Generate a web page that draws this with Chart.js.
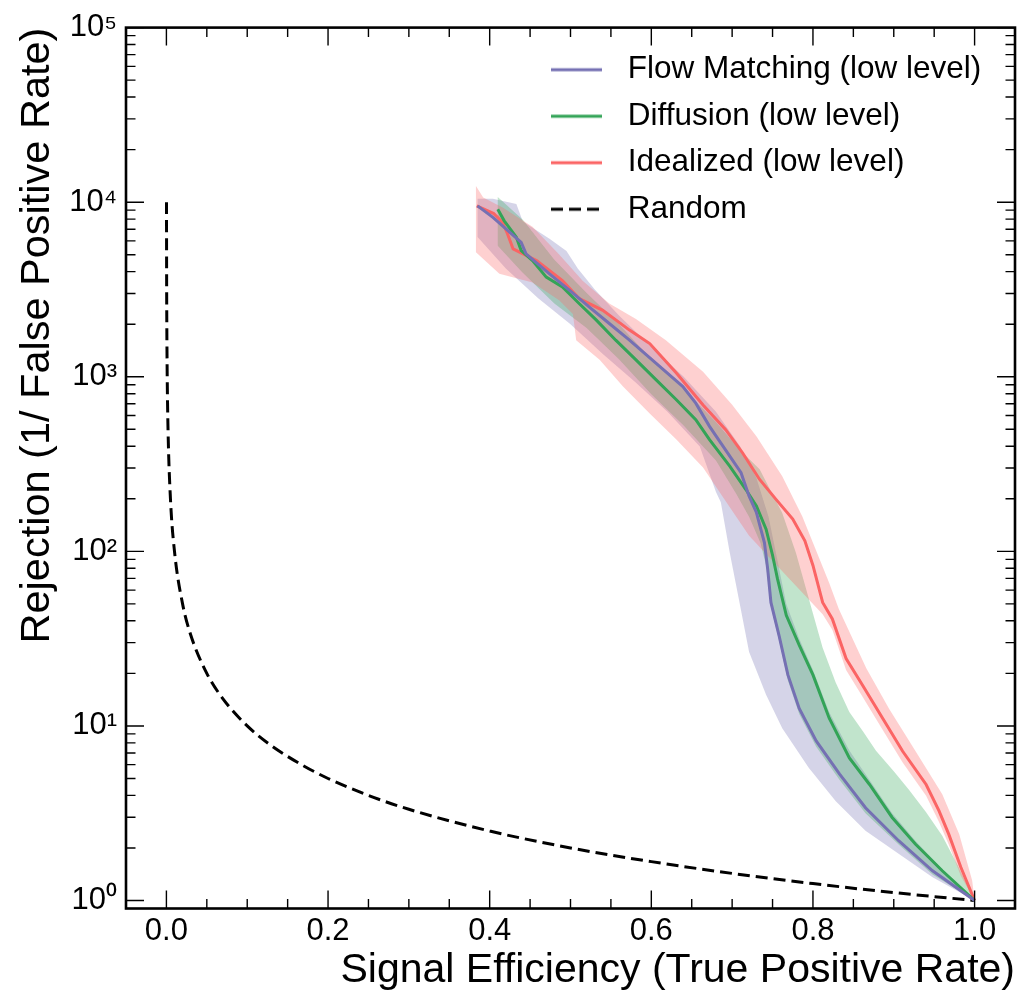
<!DOCTYPE html>
<html>
<head>
<meta charset="utf-8">
<script src="https://cdn.jsdelivr.net/npm/chart.js@4.4.1/dist/chart.umd.min.js"></script>
<style>
html,body{margin:0;padding:0;background:#fff;}
canvas{display:block;}
</style>
</head>
<body>
<canvas id="c" width="1030" height="997"></canvas>
<script>
// ---------- data ----------
const xTicks = [0.0, 0.2, 0.4, 0.6, 0.8, 1.0];
const xTickLabels = ['0.0', '0.2', '0.4', '0.6', '0.8', '1.0'];
const yTicks = [1, 10, 100, 1000, 10000, 100000];
const yTickLabels = ['10⁰', '10¹', '10²', '10³', '10⁴', '10⁵'];
const seriesNames = ['Flow Matching (low level)', 'Diffusion (low level)', 'Idealized (low level)', 'Random'];
const xAxisTitle = 'Signal Efficiency (True Positive Rate)';
const yAxisTitle = 'Rejection (1/ False Positive Rate)';

// Flow Matching: [efficiency, rejection]
const fmLine = [[0.385,9530],[0.404,8185],[0.425,6714],[0.439,5888],[0.445,5058],[0.474,3890],[0.499,3126],[0.523,2512],[0.548,2018],[0.573,1622],[0.606,1194],[0.639,879],[0.655,706],[0.672,520],[0.692,380],[0.711,282],[0.721,207],[0.730,167],[0.740,112],[0.744,79],[0.748,51],[0.758,33],[0.769,19.6],[0.783,12.6],[0.804,8.2],[0.833,5.3],[0.865,3.4],[0.906,2.2],[0.948,1.48],[1.0,1.0]];
const fmHi = [[0.385,10470],[0.404,10470],[0.433,9770],[0.441,7760],[0.474,6170],[0.495,5250],[0.509,4170],[0.530,3160],[0.560,2240],[0.600,1480],[0.640,1000],[0.680,631],[0.710,398],[0.730,263],[0.745,158],[0.756,89],[0.767,50],[0.783,31.6],[0.800,20.9],[0.820,12.0],[0.845,7.24],[0.870,4.9],[0.898,3.16],[0.927,2.19],[0.960,1.51],[1.0,1.0]];
const fmLo = [[0.385,6310],[0.420,4170],[0.460,2820],[0.500,2000],[0.540,1350],[0.580,933],[0.620,631],[0.660,398],[0.680,219],[0.686,191],[0.697,98.6],[0.709,51.2],[0.721,26.5],[0.742,15.1],[0.762,9.7],[0.795,5.75],[0.828,3.72],[0.865,2.51],[0.906,1.85],[0.948,1.36],[1.0,1.0]];

// Diffusion
const dfLine = [[0.410,9120],[0.418,7820],[0.433,6300],[0.439,5280],[0.453,4630],[0.470,3720],[0.490,3270],[0.511,2620],[0.532,2110],[0.556,1620],[0.581,1250],[0.606,960],[0.631,738],[0.655,568],[0.672,436],[0.697,308],[0.717,226],[0.730,182],[0.742,134],[0.750,95],[0.756,70],[0.767,43],[0.783,29],[0.800,19.6],[0.820,11.1],[0.845,6.56],[0.870,4.62],[0.898,2.99],[0.927,2.10],[0.960,1.48],[1.0,1.0]];
const dfHi = [[0.410,10720],[0.441,7940],[0.480,4680],[0.520,3020],[0.560,2000],[0.600,1260],[0.640,851],[0.680,550],[0.710,380],[0.734,295],[0.762,166],[0.779,98],[0.791,62],[0.800,44],[0.812,28],[0.828,17.8],[0.845,12],[0.862,9.3],[0.878,7.2],[0.900,5.5],[0.919,4.3],[0.940,3.2],[0.960,2.35],[0.980,1.56],[1.0,1.0]];
const dfLo = [[0.410,5620],[0.440,3980],[0.480,2630],[0.520,1905],[0.560,1260],[0.600,794],[0.640,525],[0.680,331],[0.705,214],[0.721,158],[0.735,112],[0.742,83],[0.748,48],[0.758,31],[0.769,18.2],[0.783,11.7],[0.804,7.6],[0.833,4.9],[0.865,3.16],[0.906,2.09],[0.948,1.41],[1.0,1.0]];

// Idealized
const idLine = [[0.384,9530],[0.405,8600],[0.416,7660],[0.422,6600],[0.429,5400],[0.458,4630],[0.490,3560],[0.511,2800],[0.540,2400],[0.573,1850],[0.598,1550],[0.631,1050],[0.664,690],[0.692,498],[0.713,366],[0.734,258],[0.754,199],[0.775,153],[0.790,115],[0.800,83],[0.812,51],[0.824,41],[0.841,24.3],[0.861,17.2],[0.886,11.1],[0.911,7.16],[0.940,4.62],[0.956,3.26],[0.968,2.40],[0.983,1.55],[1.0,1.0]];
const idHi = [[0.383,12390],[0.392,10640],[0.416,9330],[0.453,7240],[0.486,5010],[0.515,3550],[0.548,2630],[0.581,2140],[0.618,1620],[0.664,1070],[0.700,692],[0.730,457],[0.762,269],[0.787,158],[0.800,112],[0.820,66],[0.832,46.8],[0.866,21.4],[0.894,12.6],[0.927,7.16],[0.960,4.06],[0.981,2.40],[0.997,1.30],[1.0,1.0]];
const idLo = [[0.383,5160],[0.412,3890],[0.453,3470],[0.486,2740],[0.503,2290],[0.507,1620],[0.536,1250],[0.565,879],[0.598,617],[0.631,437],[0.664,302],[0.690,200],[0.721,123],[0.771,69.5],[0.812,43.6],[0.824,35.5],[0.841,20.9],[0.861,14.8],[0.886,9.55],[0.911,6.17],[0.940,3.98],[0.956,2.82],[0.968,2.09],[0.983,1.38],[1.0,1.0]];

// Random classifier
const rndLine = [[0.0001,10000],[0.0003,3333],[0.0005,2000],[0.001,1000],[0.002,500],[0.005,200],[0.01,100],[0.02,50],[0.03,33.3],[0.05,20],[0.07,14.3],[0.1,10],[0.13,7.7],[0.17,5.9],[0.2,5],[0.25,4],[0.3,3.33],[0.4,2.5],[0.5,2],[0.6,1.67],[0.7,1.43],[0.8,1.25],[0.9,1.11],[1.0,1.0]];

// ---------- styles ----------
const colors = ['#7570b3', '#33a457', '#fb6464', '#000000'];
const bandAlpha = 0.3;
function rgba(hex, a) {
  const n = parseInt(hex.slice(1), 16);
  return `rgba(${(n >> 16) & 255},${(n >> 8) & 255},${n & 255},${a})`;
}
const pts = arr => arr.map(p => ({x: p[0], y: p[1]}));
const band = (hi, lo) => pts(hi.concat(lo.slice().reverse()));

function legendSample(color, dash) {
  const c = document.createElement('canvas');
  c.width = 61; c.height = 8;
  const g = c.getContext('2d');
  g.strokeStyle = color; g.lineWidth = 3; g.setLineDash(dash);
  g.beginPath(); g.moveTo(0, 4); g.lineTo(51, 4); g.stroke();
  return c;
}

const lineDs = (label, data, color, dash) => ({
  label, data: pts(data), borderColor: color, backgroundColor: color,
  borderWidth: 3, borderDash: dash, fill: false,
  pointRadius: 0, pointHoverRadius: 0, tension: 0,
  pointStyle: legendSample(color, dash)
});
const bandDs = (data, color) => ({
  label: '_band', data, borderColor: 'rgba(0,0,0,0)', backgroundColor: rgba(color, bandAlpha),
  borderWidth: 1, fill: 'shape', pointRadius: 0, pointHoverRadius: 0, tension: 0
});

const datasets = [
  lineDs(seriesNames[0], fmLine, colors[0], []),
  lineDs(seriesNames[1], dfLine, colors[1], []),
  lineDs(seriesNames[2], idLine, colors[2], []),
  Object.assign(lineDs(seriesNames[3], rndLine, colors[3], [12, 6]), {cubicInterpolationMode: 'monotone'}),
  bandDs(band(idHi, idLo), colors[2]),
  bandDs(band(dfHi, dfLo), colors[1]),
  bandDs(band(fmHi, fmLo), colors[0])
];

// ---------- plugins ----------
const frameTicks = {
  id: 'frameTicks',
  afterDraw(chart) {
    const {ctx, chartArea: a, scales: {x, y}} = chart;
    const major = 18, minor = 9.5;
    ctx.save();
    ctx.strokeStyle = '#000';
    ctx.lineWidth = 1.4;
    const vt = (px, len) => {
      ctx.beginPath();
      ctx.moveTo(px, a.bottom); ctx.lineTo(px, a.bottom - len);
      ctx.moveTo(px, a.top); ctx.lineTo(px, a.top + len);
      ctx.stroke();
    };
    const ht = (py, len) => {
      ctx.beginPath();
      ctx.moveTo(a.left, py); ctx.lineTo(a.left + len, py);
      ctx.moveTo(a.right, py); ctx.lineTo(a.right - len, py);
      ctx.stroke();
    };
    xTicks.forEach(v => vt(x.getPixelForValue(v), major));
    for (let k = -2; k <= 22; k++) {
      const v = k * 0.05;
      if (k % 4 !== 0 && v > x.min + 1e-9 && v < x.max - 1e-9) vt(x.getPixelForValue(v), minor);
    }
    yTicks.forEach(v => { if (v >= y.min && v <= y.max) ht(y.getPixelForValue(v), major); });
    for (let e = -1; e <= 5; e++) {
      for (let m = 2; m <= 9; m++) {
        const v = m * Math.pow(10, e);
        if (v > y.min && v < y.max) ht(y.getPixelForValue(v), minor);
      }
    }
    ctx.lineWidth = 2.6;
    ctx.strokeRect(a.left, a.top, a.right - a.left, a.bottom - a.top);
    ctx.restore();
  }
};

const legendPos = {
  id: 'legendPos',
  afterLayout(chart) {
    const lg = chart.legend;
    if (!lg) return;
    lg.left = 536; lg.top = 39;
    lg.width = 470; lg.height = 300;
    lg.right = lg.left + lg.width; lg.bottom = lg.top + lg.height;
  }
};

Chart.defaults.font.family = "'Liberation Sans', Arial, Helvetica, sans-serif";
Chart.defaults.color = '#000';

new Chart(document.getElementById('c'), {
  type: 'line',
  data: {datasets},
  options: {
    responsive: false,
    animation: false,
    events: [],
    devicePixelRatio: 1,
    layout: {padding: {top: 23, right: 15, left: 0, bottom: 0}},
    plugins: {
      tooltip: {enabled: false},
      legend: {
        position: 'chartArea',
        align: 'start',
        labels: {
          usePointStyle: true,
          pointStyleWidth: 61,
          padding: 15,
          color: '#000',
          font: {size: 31.5},
          filter: item => item.datasetIndex < 4
        }
      }
    },
    scales: {
      x: {
        type: 'linear',
        min: -0.05, max: 1.05,
        afterBuildTicks: s => { s.ticks = xTicks.map(v => ({value: v})); },
        afterFit: s => { s.height = 88.5; },
        grid: {display: false, drawTicks: false},
        border: {display: false},
        ticks: {
          padding: 4,
          font: {size: 31},
          color: '#000',
          maxRotation: 0,
          callback: (v) => { const i = xTicks.findIndex(t => Math.abs(t - v) < 1e-9); return i >= 0 ? xTickLabels[i] : ''; }
        },
        title: {display: true, text: xAxisTitle, align: 'end', font: {size: 41}, color: '#000', padding: {top: 0, bottom: 2}}
      },
      y: {
        type: 'logarithmic',
        min: 0.9, max: 100000,
        afterBuildTicks: s => { s.ticks = yTicks.map(v => ({value: v})); },
        afterFit: s => { s.width = 126; },
        grid: {display: false, drawTicks: false},
        border: {display: false},
        ticks: {
          padding: 9,
          font: {size: 31},
          color: '#000',
          callback: (v) => { const i = yTicks.findIndex(t => Math.abs(t - v) / t < 1e-6); return i >= 0 ? yTickLabels[i] : ''; }
        },
        title: {display: true, text: yAxisTitle, align: 'end', font: {size: 41.5}, color: '#000', padding: {top: 13, bottom: 0}}
      }
    }
  },
  plugins: [frameTicks, legendPos]
});
</script>
</body>
</html>
